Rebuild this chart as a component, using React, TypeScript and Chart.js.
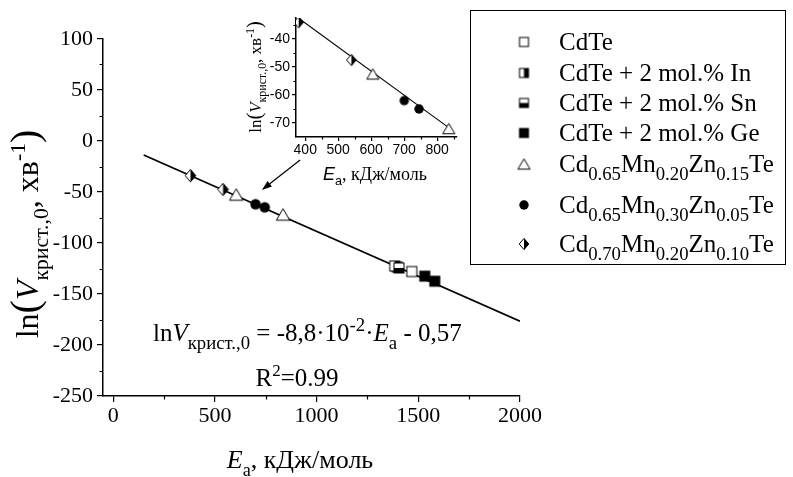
import React, { useEffect, useRef } from "react";
import { Chart, registerables } from "chart.js";
Chart.register(...registerables);

const SERIF = '"Liberation Serif", "Times New Roman", serif';
const SANS = '"Liberation Sans", Arial, sans-serif';

// ---- data (E_a in kJ/mol, ln V) ----
const cdteE = [1396, 1468];
const cdteLnV = [-123.5, -128];
const inE = [1384];
const inLnV = [-122.5];
const snE = [1405];
const snLnV = [-124.5];
const geE = [1532, 1581];
const geLnV = [-132.5, -137.5];
const mn20zn15E = [605, 835];
const mn20zn15LnV = [-52.5, -72];
const mn30zn05E = [700, 745];
const mn30zn05LnV = [-62, -65];
const mn20zn10E = [380, 540];
const mn20zn10LnV = [-34, -47.5];
const fitE = [150, 2000];
const fitLnV = [-13.8, -176.6];
const insetFitE = [378, 841];
const insetFitLnV = [-32.4, -72.2];

const mainXTicks = [0, 500, 1000, 1500, 2000];
const mainXMinor = [250, 750, 1250, 1750];
const mainYTicks = [100, 50, 0, -50, -100, -150, -200, -250];
const mainYMinor = [75, 25, -25, -75, -125, -175, -225];
const insetXTicks = [400, 500, 600, 700, 800];
const insetXMinor = [450, 550, 650, 750, 850];
const insetYTicks = [-40, -50, -60, -70];
const insetYMinor = [-35, -45, -55, -65];

type Seg = { t: string; k?: "sub" | "sup"; it?: boolean; fam?: string; b?: boolean; sc?: number };

const N = (t: string, o: Partial<Seg> = {}): Seg => ({ t, ...o });
const SB = (t: string, o: Partial<Seg> = {}): Seg => ({ t, k: "sub", ...o });
const SP = (t: string, o: Partial<Seg> = {}): Seg => ({ t, k: "sup", ...o });
const IT = (t: string, o: Partial<Seg> = {}): Seg => ({ t, it: true, ...o });

const legendNames: Seg[][] = [
  [N("CdTe")],
  [N("CdTe + 2 mol.% In")],
  [N("CdTe + 2 mol.% Sn")],
  [N("CdTe + 2 mol.% Ge")],
  [N("Cd"), SB("0.65"), N("Mn"), SB("0.20"), N("Zn"), SB("0.15"), N("Te")],
  [N("Cd"), SB("0.65"), N("Mn"), SB("0.30"), N("Zn"), SB("0.05"), N("Te")],
  [N("Cd"), SB("0.70"), N("Mn"), SB("0.20"), N("Zn"), SB("0.10"), N("Te")],
];
const legendKinds = ["sq", "sqIn", "sqSn", "sqGe", "tri", "circ", "dia"];
const legendRowY = [42, 73, 103, 133, 164, 205, 244];

function segFont(g: Seg, base: number, fam: string, subSc: number) {
  const size = g.k ? base * subSc : base * (g.sc ?? 1);
  return `${g.it ? "italic " : ""}${g.b ? "bold " : ""}${size}px ${g.fam ?? fam}`;
}
function segDy(g: Seg, base: number) {
  return g.k === "sub" ? base * 0.3 : g.k === "sup" ? -base * 0.42 : 0;
}
function drawRich(
  ctx: CanvasRenderingContext2D,
  segs: Seg[],
  x: number,
  y: number,
  base: number,
  fam: string,
  align: "left" | "center" | "right" = "left",
  subSc = 0.7
) {
  let w = 0;
  for (const g of segs) {
    ctx.font = segFont(g, base, fam, subSc);
    w += ctx.measureText(g.t).width;
  }
  let cx = align === "left" ? x : align === "center" ? x - w / 2 : x - w;
  ctx.textAlign = "left";
  ctx.textBaseline = "alphabetic";
  ctx.fillStyle = "#000";
  for (const g of segs) {
    ctx.font = segFont(g, base, fam, subSc);
    ctx.fillText(g.t, cx, y + segDy(g, base));
    cx += ctx.measureText(g.t).width;
  }
}

function makeMarker(kind: string, size: number): HTMLCanvasElement {
  const pad = 2;
  const d = Math.ceil(size) + pad * 2;
  const c = document.createElement("canvas");
  c.width = d;
  c.height = d;
  const g = c.getContext("2d")!;
  const m = d / 2;
  const h = size / 2;
  g.lineWidth = 1;
  g.strokeStyle = "#000";
  g.fillStyle = "#fff";
  const L = m - h, T = m - h;
  if (kind.startsWith("sq")) {
    g.fillRect(L, T, size, size);
    g.fillStyle = "#000";
    if (kind === "sqIn") g.fillRect(m, T, h, size);
    if (kind === "sqSn") g.fillRect(L, m, size, h);
    if (kind === "sqGe") g.fillRect(L, T, size, size);
    g.strokeRect(L, T, size, size);
  } else if (kind === "tri") {
    const hh = size * 0.85;
    g.beginPath();
    g.moveTo(m, m - hh / 2);
    g.lineTo(m + h, m + hh / 2);
    g.lineTo(m - h, m + hh / 2);
    g.closePath();
    g.fill();
    g.stroke();
  } else if (kind === "circ") {
    g.fillStyle = "#000";
    g.beginPath();
    g.arc(m, m, h, 0, Math.PI * 2);
    g.fill();
  } else if (kind === "dia") {
    const w = h * 0.85;
    g.beginPath();
    g.moveTo(m, m - h);
    g.lineTo(m + w, m);
    g.lineTo(m, m + h);
    g.lineTo(m - w, m);
    g.closePath();
    g.fill();
    g.fillStyle = "#000";
    g.beginPath();
    g.moveTo(m, m - h);
    g.lineTo(m + w, m);
    g.lineTo(m, m + h);
    g.closePath();
    g.fill();
    g.beginPath();
    g.moveTo(m, m - h);
    g.lineTo(m + w, m);
    g.lineTo(m, m + h);
    g.lineTo(m - w, m);
    g.closePath();
    g.stroke();
  }
  return c;
}

const pts = (xs: number[], ys: number[]) => xs.map((x, i) => ({ x, y: ys[i] }));

function axisCfg(
  min: number,
  max: number,
  ticks: number[],
  fit: (s: any) => void,
  font: { family: string; size: number },
  tickLen: number,
  padding: number
) {
  return {
    type: "linear" as const,
    min,
    max,
    afterBuildTicks: (s: any) => {
      s.ticks = ticks.map((v) => ({ value: v }));
    },
    afterFit: fit,
    grid: {
      display: true,
      drawOnChartArea: false,
      drawTicks: true,
      tickLength: tickLen,
      color: "#000",
      lineWidth: 1.2,
    },
    border: { display: true, color: "#000", width: 1.5 },
    ticks: {
      color: "#000",
      font,
      padding,
      maxRotation: 0,
      autoSkip: false,
      callback: (v: any) => String(v),
    },
  };
}

function drawMinors(chart: any, xs: number[], ys: number[], len: number) {
  const { ctx, chartArea, scales } = chart;
  ctx.save();
  ctx.strokeStyle = "#000";
  ctx.lineWidth = 1.2;
  ctx.beginPath();
  for (const v of xs) {
    const px = Math.round(scales.x.getPixelForValue(v)) + 0.5;
    ctx.moveTo(px, chartArea.bottom);
    ctx.lineTo(px, chartArea.bottom + len);
  }
  for (const v of ys) {
    const py = Math.round(scales.y.getPixelForValue(v)) + 0.5;
    ctx.moveTo(chartArea.left, py);
    ctx.lineTo(chartArea.left - len, py);
  }
  ctx.stroke();
  ctx.restore();
}

export default function App() {
  const mainRef = useRef<HTMLCanvasElement>(null);
  const insetRef = useRef<HTMLCanvasElement>(null);

  useEffect(() => {
    const mk = (size: number) => {
      const o: Record<string, HTMLCanvasElement> = {};
      o.sq = makeMarker("sq", size);
      o.sqIn = makeMarker("sqIn", size);
      o.sqSn = makeMarker("sqSn", size);
      o.sqGe = makeMarker("sqGe", size);
      o.tri = makeMarker("tri", size * 1.35);
      o.circ = makeMarker("circ", size * 1.05);
      o.dia = makeMarker("dia", size * 1.25);
      return o;
    };
    const mainM = mk(10);
    const legM = mk(9);
    const insM = mk(9);

    const series = [
      { xs: cdteE, ys: cdteLnV, kind: "sq" },
      { xs: inE, ys: inLnV, kind: "sqIn" },
      { xs: snE, ys: snLnV, kind: "sqSn" },
      { xs: geE, ys: geLnV, kind: "sqGe" },
      { xs: mn20zn15E, ys: mn20zn15LnV, kind: "tri" },
      { xs: mn30zn05E, ys: mn30zn05LnV, kind: "circ" },
      { xs: mn20zn10E, ys: mn20zn10LnV, kind: "dia" },
    ];

    const mainOverlay = {
      id: "mainOverlay",
      afterDraw(chart: any) {
        const ctx: CanvasRenderingContext2D = chart.ctx;
        const { scales } = chart;
        drawMinors(chart, mainXMinor, mainYMinor, 3.5);
        ctx.save();
        // legend box
        ctx.strokeStyle = "#000";
        ctx.lineWidth = 1;
        ctx.strokeRect(470.5, 10.5, 315, 254);
        legendNames.forEach((segs, i) => {
          const img = legM[legendKinds[i]];
          const y = legendRowY[i];
          ctx.drawImage(img, 524 - img.width / 2, y - img.height / 2);
          drawRich(ctx, segs, 559, y + 8, 25, SERIF, "left", 0.75);
        });
        // equation
        drawRich(
          ctx,
          [
            N("ln"),
            IT("V"),
            SB("крист.,0"),
            N(" = -8,8·10"),
            SP("-2"),
            N("·"),
            IT("E"),
            SB("a"),
            N(" - 0,57"),
          ],
          153,
          341,
          25,
          SERIF,
          "left",
          0.75
        );
        drawRich(ctx, [N("R"), SP("2"), N("=0.99")], 297, 386, 25, SERIF, "center", 0.68);
        // x title
        drawRich(ctx, [IT("E"), SB("a"), N(", кДж/моль")], 300, 468, 26, SERIF, "center", 0.7);
        // y title
        ctx.save();
        ctx.translate(38, 234);
        ctx.rotate(-Math.PI / 2);
        drawRich(
          ctx,
          [N("ln"), N("(", { sc: 1.25 }), IT("V"), SB("крист.,0"), N(", хв"), SP("-1"), N(")", { sc: 1.25 })],
          0,
          0,
          32,
          SERIF,
          "center",
          0.68
        );
        ctx.restore();
        // arrow
        const tx = scales.x.getPixelForValue(919);
        const ty = scales.y.getPixelForValue(-18.6);
        const hx = scales.x.getPixelForValue(731);
        const hy = scales.y.getPixelForValue(-48);
        const ang = Math.atan2(hy - ty, hx - tx);
        ctx.strokeStyle = "#000";
        ctx.lineWidth = 1.2;
        ctx.beginPath();
        ctx.moveTo(tx, ty);
        ctx.lineTo(hx - 6 * Math.cos(ang), hy - 6 * Math.sin(ang));
        ctx.stroke();
        ctx.fillStyle = "#000";
        ctx.beginPath();
        ctx.moveTo(hx, hy);
        ctx.lineTo(hx - 10 * Math.cos(ang) + 3.5 * Math.sin(ang), hy - 10 * Math.sin(ang) - 3.5 * Math.cos(ang));
        ctx.lineTo(hx - 10 * Math.cos(ang) - 3.5 * Math.sin(ang), hy - 10 * Math.sin(ang) + 3.5 * Math.cos(ang));
        ctx.closePath();
        ctx.fill();
        ctx.restore();
      },
    };

    const main = new Chart(mainRef.current!, {
      type: "scatter",
      data: {
        datasets: [
          {
            type: "line",
            data: pts(fitE, fitLnV),
            borderColor: "#000",
            borderWidth: 1.7,
            pointRadius: 0,
            fill: false,
            order: 20,
          } as any,
          ...series.map((s, i) => ({
            data: pts(s.xs, s.ys),
            pointStyle: mainM[s.kind],
            pointRadius: 6,
            order: 10 - i,
          })),
        ],
      },
      options: {
        animation: false,
        responsive: false,
        maintainAspectRatio: false,
        layout: { padding: { top: 39, right: 273, left: 0, bottom: 0 } },
        plugins: { legend: { display: false }, tooltip: { enabled: false } },
        scales: {
          x: axisCfg(-50, 2000, mainXTicks, (s: any) => { s.height = 81; }, { family: SERIF, size: 22 }, 6, 1),
          y: axisCfg(-250, 100, mainYTicks, (s: any) => { s.width = 103; }, { family: SERIF, size: 22 }, 6, 4),
        },
      } as any,
      plugins: [mainOverlay],
    });

    const insetOverlay = {
      id: "insetOverlay",
      afterDraw(chart: any) {
        const ctx: CanvasRenderingContext2D = chart.ctx;
        drawMinors(chart, insetXMinor, insetYMinor, 2.5);
        ctx.save();
        drawRich(
          ctx,
          [IT("E", { fam: SANS }), SB("a", { fam: SANS }), N(", кДж/моль")],
          175,
          180,
          18,
          SERIF,
          "center"
        );
        ctx.translate(61, 77);
        ctx.rotate(-Math.PI / 2);
        drawRich(
          ctx,
          [N("ln"), N("(", { sc: 1.2 }), IT("V"), SB("крист.,0"), N(", хв"), SP("-1"), N(")", { sc: 1.2 })],
          0,
          0,
          17,
          SERIF,
          "center"
        );
        ctx.restore();
      },
    };

    const insetSeries = series.slice(4);
    const inset = new Chart(insetRef.current!, {
      type: "scatter",
      data: {
        datasets: [
          {
            type: "line",
            data: pts(insetFitE, insetFitLnV),
            borderColor: "#000",
            borderWidth: 1.1,
            pointRadius: 0,
            fill: false,
            order: 20,
          } as any,
          ...insetSeries.map((s, i) => ({
            data: pts(s.xs, s.ys),
            pointStyle: insM[s.kind],
            pointRadius: 5,
            order: 10 - i,
          })),
        ],
      },
      options: {
        animation: false,
        responsive: false,
        maintainAspectRatio: false,
        layout: { padding: { top: 18, right: 23, left: 0, bottom: 0 } },
        plugins: { legend: { display: false }, tooltip: { enabled: false } },
        scales: {
          x: axisCfg(372, 860, insetXTicks, (s: any) => { s.height = 53; }, { family: SANS, size: 14 }, 4, 1),
          y: axisCfg(-75, -32.5, insetYTicks, (s: any) => { s.width = 96; }, { family: SANS, size: 14 }, 4, 2),
        },
      } as any,
      plugins: [insetOverlay],
    });

    return () => {
      main.destroy();
      inset.destroy();
    };
  }, []);

  return (
    <div style={{ position: "absolute", left: 0, top: 0, width: 793, height: 477, background: "#fff" }}>
      <canvas
        ref={mainRef}
        width={793}
        height={477}
        style={{ position: "absolute", left: 0, top: 0, width: 793, height: 477 }}
      />
      <canvas
        ref={insetRef}
        width={280}
        height={190}
        style={{ position: "absolute", left: 200, top: 0, width: 280, height: 190 }}
      />
    </div>
  );
}
